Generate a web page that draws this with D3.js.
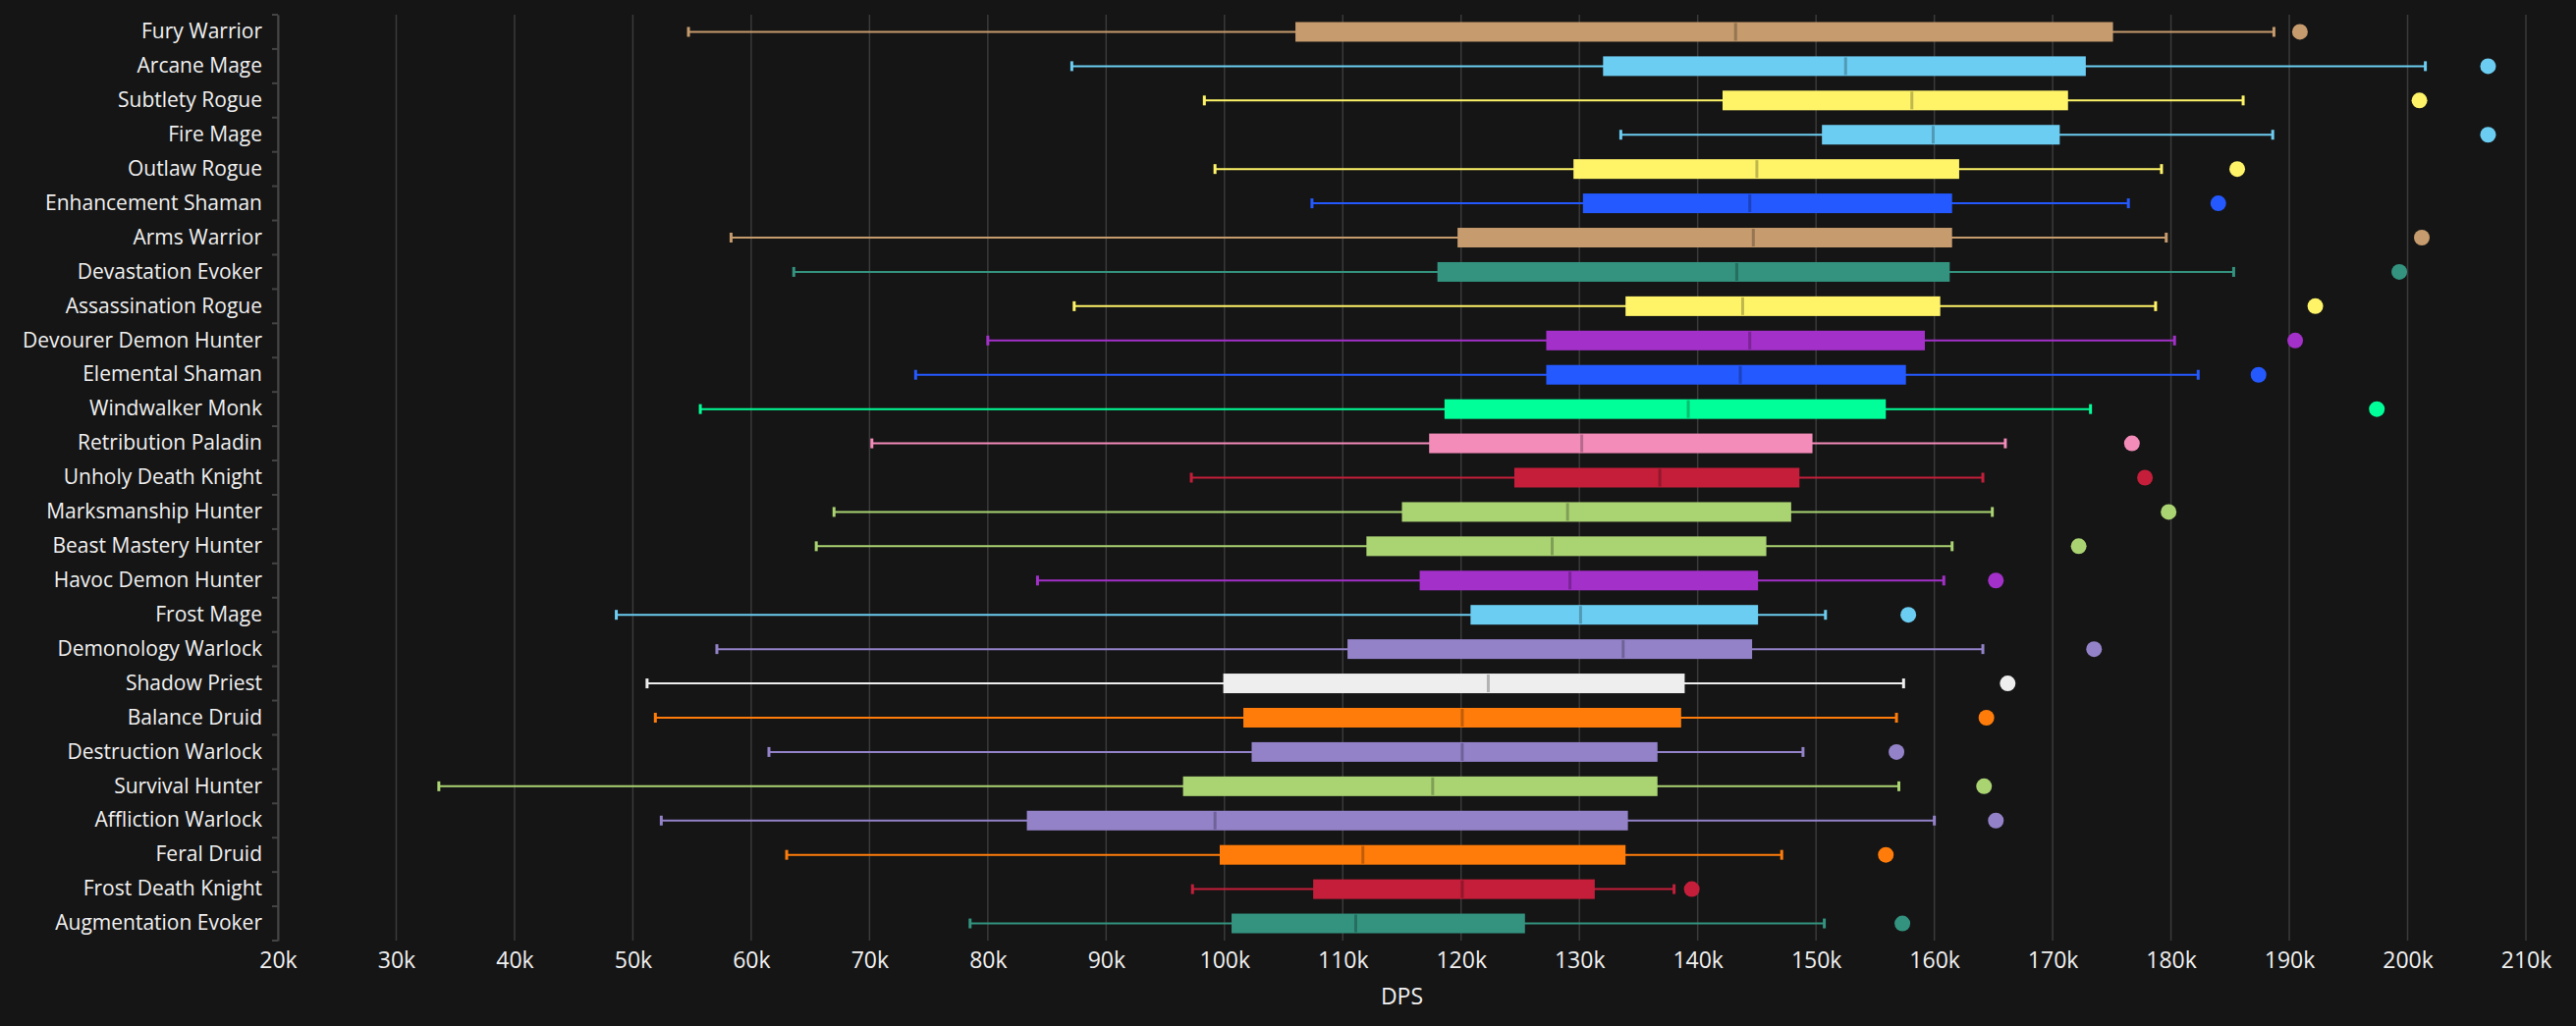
<!DOCTYPE html>
<html>
<head>
<meta charset="utf-8">
<script src="https://cdn.jsdelivr.net/npm/d3@7"></script>
<style>
  body { margin: 0; background: #151515; }
  text { font-family: "Liberation Sans Narrow", "Open Sans", sans-serif; fill: #f0f0f0; }
</style>
</head>
<body>
<div id="container"></div>
<script>
// specs, top to bottom
const specs = ['Fury Warrior','Arcane Mage','Subtlety Rogue','Fire Mage','Outlaw Rogue','Enhancement Shaman','Arms Warrior','Devastation Evoker','Assassination Rogue','Devourer Demon Hunter','Elemental Shaman','Windwalker Monk','Retribution Paladin','Unholy Death Knight','Marksmanship Hunter','Beast Mastery Hunter','Havoc Demon Hunter','Frost Mage','Demonology Warlock','Shadow Priest','Balance Druid','Destruction Warlock','Survival Hunter','Affliction Warlock','Feral Druid','Frost Death Knight','Augmentation Evoker'];
const classes = ['warrior','mage','rogue','mage','rogue','shaman','warrior','evoker','rogue','dh','shaman','monk','paladin','dk','hunter','hunter','dh','mage','warlock','priest','druid','warlock','hunter','warlock','druid','dk','evoker'];
// values in thousands of DPS
const lows    = [54.7, 87.1, 98.3, 133.5, 99.2, 107.4, 58.3, 63.6, 87.3, 80.0, 73.9, 55.7, 70.2, 97.2, 67.0, 65.5, 84.2, 48.6, 57.1, 51.2, 51.9, 61.5, 33.6, 52.4, 63.0, 97.3, 78.5];
const q1s     = [106.0, 132.0, 142.1, 150.5, 129.5, 130.3, 119.7, 118.0, 133.9, 127.2, 127.2, 118.6, 117.3, 124.5, 115.0, 112.0, 116.5, 120.8, 110.4, 99.9, 101.6, 102.3, 96.5, 83.3, 99.6, 107.5, 100.6];
const medians = [143.2, 152.5, 158.1, 159.9, 145.0, 144.4, 144.7, 143.3, 143.8, 144.4, 143.6, 139.2, 130.2, 136.8, 129.0, 127.7, 129.2, 130.1, 133.7, 122.3, 120.1, 120.1, 117.6, 99.2, 111.7, 120.1, 111.1];
const q3s     = [175.1, 172.8, 171.3, 170.6, 162.1, 161.5, 161.5, 161.3, 160.5, 159.2, 157.6, 155.9, 149.7, 148.6, 147.9, 145.8, 145.1, 145.1, 144.6, 138.9, 138.6, 136.6, 136.6, 134.1, 133.9, 131.3, 125.4];
const highs   = [188.7, 201.5, 186.1, 188.6, 179.2, 176.4, 179.6, 185.3, 178.7, 180.3, 182.3, 173.2, 166.0, 164.1, 164.9, 161.5, 160.8, 150.8, 164.1, 157.4, 156.8, 148.9, 157.0, 160.0, 147.1, 138.0, 150.7];
const maxes   = [190.9, 206.8, 201.0, 206.8, 185.6, 184.0, 201.2, 199.3, 192.2, 190.5, 187.4, 197.4, 176.7, 177.8, 179.8, 172.2, 165.2, 157.8, 173.5, 166.2, 164.4, 156.8, 164.2, 165.2, 155.9, 139.5, 157.3];
const xTicks = [20,30,40,50,60,70,80,90,100,110,120,130,140,150,160,170,180,190,200,210];

const colors = {warrior:'#c69b6d', mage:'#6ccdf2', rogue:'#fff468', shaman:'#2459ff', evoker:'#33937f', dh:'#a330c9', monk:'#00ff98', paladin:'#f48cba', dk:'#c41e3a', hunter:'#aad372', warlock:'#9482c9', priest:'#eeeeee', druid:'#ff7c0a'};

const width = 2623, height = 1045;
const margin = {left: 283, right: 51, top: 15, bottom: 87};

const svg = d3.select('#container').append('svg')
  .attr('width', width).attr('height', height);

const x = d3.scaleLinear().domain([20, 210]).range([margin.left, width - margin.right]);
const y = d3.scaleBand().domain(specs).range([margin.top, height - margin.bottom]);

// grid
svg.append('g').selectAll('line').data(xTicks).enter().append('line')
  .attr('x1', d => x(d)).attr('x2', d => x(d))
  .attr('y1', margin.top).attr('y2', height - margin.bottom)
  .attr('stroke', '#3a3a3a').attr('stroke-width', 1.5);

// x axis
const xAxis = svg.append('g')
  .attr('transform', `translate(0,${height - margin.bottom})`)
  .call(d3.axisBottom(x).tickValues(xTicks).tickFormat(d => d + 'k').tickSize(0).tickPadding(12));
xAxis.select('.domain').remove();
xAxis.selectAll('text').style('font-size', '23px');

svg.append('text')
  .attr('x', (margin.left + width - margin.right) / 2)
  .attr('y', 1023)
  .attr('text-anchor', 'middle')
  .style('font-size', '23px')
  .text('DPS');

// y axis
const yAxis = svg.append('g')
  .attr('transform', `translate(${margin.left},0)`)
  .call(d3.axisLeft(y).tickSize(0).tickPadding(16));
yAxis.select('.domain').attr('stroke', '#444').attr('stroke-width', 2);
yAxis.selectAll('text').style('font-size', '21px');
svg.append('g').selectAll('line').data(d3.range(specs.length + 1)).enter().append('line')
  .attr('x1', margin.left - 6).attr('x2', margin.left)
  .attr('y1', i => margin.top + i * y.step()).attr('y2', i => margin.top + i * y.step())
  .attr('stroke', '#444').attr('stroke-width', 2);

// boxes
const rows = svg.append('g').selectAll('g').data(specs).enter().append('g')
  .attr('transform', d => `translate(0,${y(d) + y.bandwidth() / 2})`);
const col = (d, i) => colors[classes[i]];
const boxH = 20, capH = 10;

rows.append('line')
  .attr('x1', (d, i) => x(lows[i])).attr('x2', (d, i) => x(highs[i]))
  .attr('stroke', col).attr('stroke-width', 2);
rows.append('line')
  .attr('x1', (d, i) => x(lows[i])).attr('x2', (d, i) => x(lows[i]))
  .attr('y1', -capH / 2).attr('y2', capH / 2)
  .attr('stroke', col).attr('stroke-width', 3);
rows.append('line')
  .attr('x1', (d, i) => x(highs[i])).attr('x2', (d, i) => x(highs[i]))
  .attr('y1', -capH / 2).attr('y2', capH / 2)
  .attr('stroke', col).attr('stroke-width', 3);
rows.append('rect')
  .attr('x', (d, i) => x(q1s[i])).attr('y', -boxH / 2)
  .attr('width', (d, i) => x(q3s[i]) - x(q1s[i])).attr('height', boxH)
  .attr('fill', col);
rows.append('line')
  .attr('x1', (d, i) => x(medians[i])).attr('x2', (d, i) => x(medians[i]))
  .attr('y1', -boxH / 2 + 1).attr('y2', boxH / 2 - 1)
  .attr('stroke', (d, i) => d3.color(col(d, i)).darker(0.8)).attr('stroke-width', 3);
rows.append('circle')
  .attr('cx', (d, i) => x(maxes[i])).attr('r', 8)
  .attr('fill', col);
</script>
</body>
</html>
